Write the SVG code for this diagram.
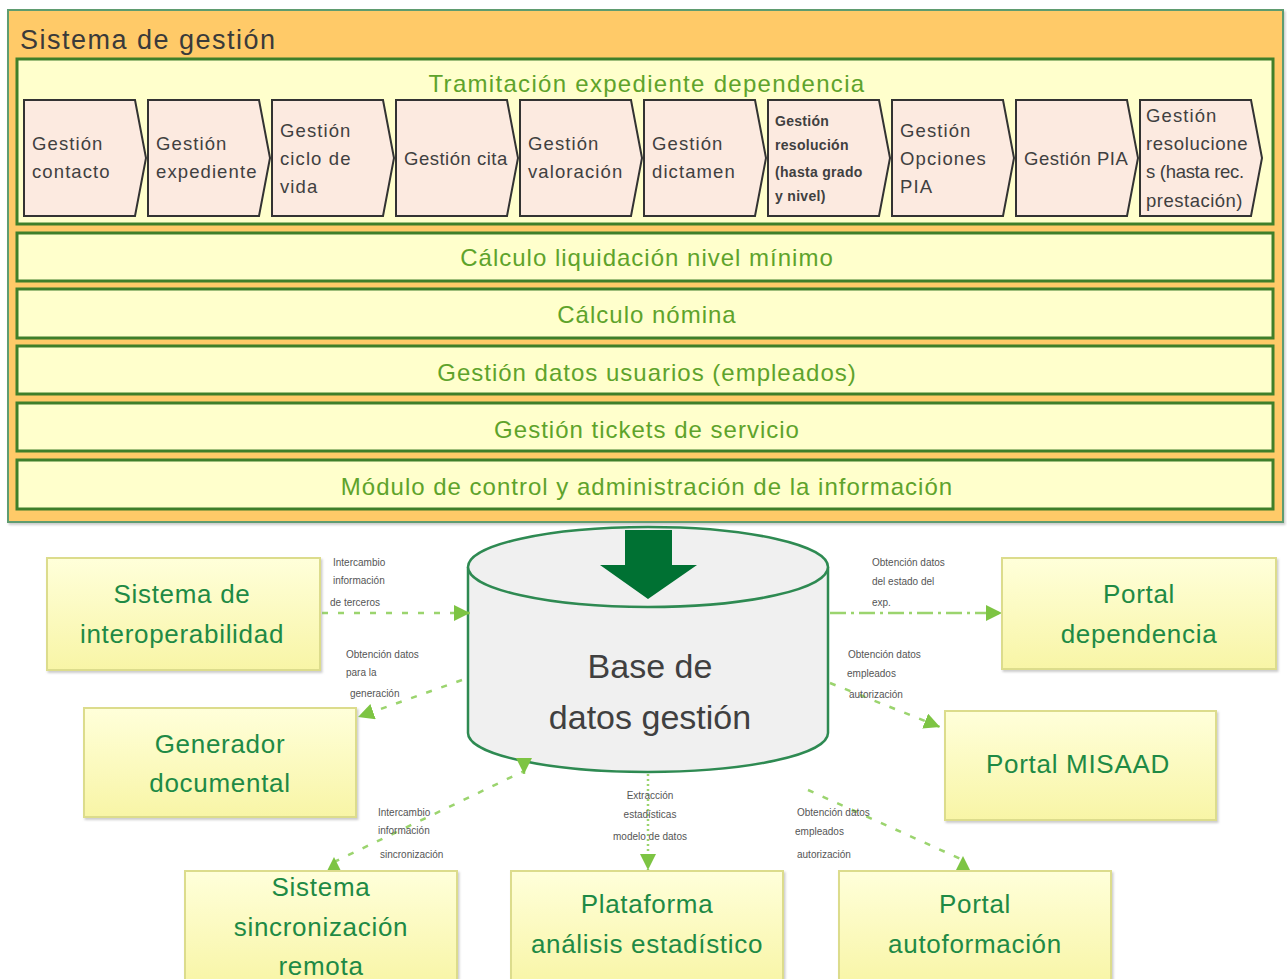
<svg xmlns="http://www.w3.org/2000/svg" width="1287" height="979" viewBox="0 0 1287 979">
<defs>
<linearGradient id="boxGrad" x1="0" y1="0" x2="0" y2="1">
<stop offset="0" stop-color="#FFFFDA"/>
<stop offset="1" stop-color="#F8F5A6"/>
</linearGradient>
<marker id="arr" viewBox="0 0 10 10" refX="10" refY="5" markerUnits="userSpaceOnUse" markerWidth="16" markerHeight="16" orient="auto-start-reverse">
<path d="M0,0 L10,5 L0,10 Z" fill="#7DC443"/>
</marker>
<filter id="sh" x="-5%" y="-5%" width="110%" height="115%">
<feDropShadow dx="1.5" dy="2" stdDeviation="1.2" flood-color="#999" flood-opacity="0.5"/>
</filter>
</defs>
<style>
.outer{fill:#FFCA68;stroke:#5E9C70;stroke-width:2}
.panel{fill:#FFFFCC;stroke:#3F7F2A;stroke-width:3}
.chev{fill:#FCEAE0;stroke:#333333;stroke-width:2}
.ct{font-family:"Liberation Sans",Arial,sans-serif;font-size:18.5px;fill:#404040;letter-spacing:1.1px}
.cts{font-family:"Liberation Sans",Arial,sans-serif;font-size:14px;font-weight:bold;fill:#404040;letter-spacing:0.3px}
.bt{font-family:"Liberation Sans",Arial,sans-serif;font-size:24px;fill:#5EA32B;text-anchor:middle;letter-spacing:1px}
.box{fill:url(#boxGrad);stroke:#DCDC8C;stroke-width:2}
.nt{font-family:"Liberation Sans",Arial,sans-serif;font-size:26px;fill:#1E8A45;text-anchor:middle;letter-spacing:0.7px}
.lbl{font-family:"Liberation Sans",Arial,sans-serif;font-size:10px;fill:#555555}
.con{fill:none;stroke:#9BD46E;stroke-width:2.5;stroke-dasharray:6,10}
</style>

<g id="sistema-gestion">
<rect class="outer" x="8" y="10" width="1275" height="512" filter="url(#sh)"/>
<text x="20" y="49" font-family="Liberation Sans, Arial, sans-serif" font-size="27" letter-spacing="1.5" fill="#3A3A3A">Sistema de gestión</text>
</g>

<g id="tramitacion">
<rect class="panel" x="17" y="59" width="1256" height="165"/>
<text class="bt" x="647" y="92" style="letter-spacing:1.3px">Tramitación expediente dependencia</text>
</g>

<g id="chev-contacto">
<path class="chev" d="M24,100 H135 L146,158 L135,216 H24 Z"/>
<text class="ct" x="32" y="150">Gestión</text>
<text class="ct" x="32" y="178">contacto</text>
</g>
<g id="chev-expediente">
<path class="chev" d="M148,100 H259 L270,158 L259,216 H148 Z"/>
<text class="ct" x="156" y="150">Gestión</text>
<text class="ct" x="156" y="178">expediente</text>
</g>
<g id="chev-ciclo">
<path class="chev" d="M272,100 H383 L394,158 L383,216 H272 Z"/>
<text class="ct" x="280" y="137">Gestión</text>
<text class="ct" x="280" y="165">ciclo de</text>
<text class="ct" x="280" y="193">vida</text>
</g>
<g id="chev-cita">
<path class="chev" d="M396,100 H507 L518,158 L507,216 H396 Z"/>
<text class="ct" x="404" y="165" style="letter-spacing:0.5px">Gestión cita</text>
</g>
<g id="chev-valoracion">
<path class="chev" d="M520,100 H631 L642,158 L631,216 H520 Z"/>
<text class="ct" x="528" y="150">Gestión</text>
<text class="ct" x="528" y="178">valoración</text>
</g>
<g id="chev-dictamen">
<path class="chev" d="M644,100 H755 L766,158 L755,216 H644 Z"/>
<text class="ct" x="652" y="150">Gestión</text>
<text class="ct" x="652" y="178">dictamen</text>
</g>
<g id="chev-resolucion">
<path class="chev" d="M768,100 H879 L890,158 L879,216 H768 Z"/>
<text class="cts" x="775" y="126">Gestión</text>
<text class="cts" x="775" y="150">resolución</text>
<text class="cts" x="775" y="177">(hasta grado</text>
<text class="cts" x="775" y="201">y nivel)</text>
</g>
<g id="chev-opciones">
<path class="chev" d="M892,100 H1003 L1014,158 L1003,216 H892 Z"/>
<text class="ct" x="900" y="137">Gestión</text>
<text class="ct" x="900" y="165">Opciones</text>
<text class="ct" x="900" y="193">PIA</text>
</g>
<g id="chev-pia">
<path class="chev" d="M1016,100 H1127 L1138,158 L1127,216 H1016 Z"/>
<text class="ct" x="1024" y="165" style="letter-spacing:0.5px">Gestión PIA</text>
</g>
<g id="chev-resoluciones">
<path class="chev" d="M1140,100 H1251 L1262,158 L1251,216 H1140 Z"/>
<text class="ct" x="1146" y="122">Gestión</text>
<text class="ct" x="1146" y="150" style="letter-spacing:0.7px">resolucione</text>
<text class="ct" x="1146" y="178" style="letter-spacing:-0.3px">s (hasta rec.</text>
<text class="ct" x="1146" y="207" style="letter-spacing:0.5px">prestación)</text>
</g>

<g id="bar-liquidacion">
<rect class="panel" x="17" y="233" width="1256" height="48"/>
<text class="bt" x="647" y="266">Cálculo liquidación  nivel mínimo</text>
</g>
<g id="bar-nomina">
<rect class="panel" x="17" y="289" width="1256" height="49"/>
<text class="bt" x="647" y="323">Cálculo nómina</text>
</g>
<g id="bar-usuarios">
<rect class="panel" x="17" y="346" width="1256" height="48"/>
<text class="bt" x="647" y="381">Gestión datos usuarios (empleados)</text>
</g>
<g id="bar-tickets">
<rect class="panel" x="17" y="403" width="1256" height="48"/>
<text class="bt" x="647" y="438">Gestión tickets de servicio</text>
</g>
<g id="bar-control">
<rect class="panel" x="17" y="460" width="1256" height="49"/>
<text class="bt" x="647" y="495">Módulo de control y administración  de la información</text>
</g>

<g id="base-datos">
<path d="M468,567 V733 A180,39 0 0 0 828,733 V567" fill="#F0F0F0" stroke="#2E8A52" stroke-width="2.5"/>
<ellipse cx="648" cy="567" rx="180" ry="40" fill="#F0F0F0" stroke="#2E8A52" stroke-width="2.5"/>
<path d="M625,530 H672 V565 H697 L648,599 L600,565 H625 Z" fill="#007133"/>
<text x="650" y="678" text-anchor="middle" font-family="Liberation Sans, Arial, sans-serif" font-size="34" fill="#404040">Base de</text>
<text x="650" y="729" text-anchor="middle" font-family="Liberation Sans, Arial, sans-serif" font-size="34" fill="#404040">datos gestión</text>
</g>

<g id="connectors">
<path class="con" d="M322,613 H470" marker-end="url(#arr)"/>
<path class="con" d="M462,680 L358,717" marker-end="url(#arr)"/>
<path class="con" d="M524,774 L524,771 L334,862 L334,857" marker-start="url(#arr)" marker-end="url(#arr)"/>
<path d="M648,774 V870" fill="none" stroke="#9BD46E" stroke-width="2.5" stroke-dasharray="2,3" marker-end="url(#arr)"/>
<path class="con" d="M808,790 L963,860 L963,856" marker-end="url(#arr)"/>
<path class="con" d="M830,683 L940,727" marker-end="url(#arr)"/>
<path d="M830,613 H1002" fill="none" stroke="#9BD46E" stroke-width="2.5" stroke-dasharray="16,5,3,5" marker-end="url(#arr)"/>
<text class="lbl" x="333" y="566">Intercambio</text>
<text class="lbl" x="333" y="584">información</text>
<text class="lbl" x="330" y="606">de terceros</text>
<text class="lbl" x="346" y="658">Obtención datos</text>
<text class="lbl" x="346" y="676">para la</text>
<text class="lbl" x="350" y="697">generación</text>
<text class="lbl" x="378" y="816">Intercambio</text>
<text class="lbl" x="378" y="834">información</text>
<text class="lbl" x="380" y="858">sincronización</text>
<text class="lbl" x="650" y="799" text-anchor="middle">Extracción</text>
<text class="lbl" x="650" y="818" text-anchor="middle">estadísticas</text>
<text class="lbl" x="650" y="840" text-anchor="middle">modelo de datos</text>
<text class="lbl" x="797" y="816">Obtención datos</text>
<text class="lbl" x="795" y="835">empleados</text>
<text class="lbl" x="797" y="858">autorización</text>
<text class="lbl" x="872" y="566">Obtención datos</text>
<text class="lbl" x="872" y="585">del estado del</text>
<text class="lbl" x="872" y="606">exp.</text>
<text class="lbl" x="848" y="658">Obtención datos</text>
<text class="lbl" x="847" y="677">empleados</text>
<text class="lbl" x="849" y="698">autorización</text>
</g>

<g id="interoperabilidad">
<rect class="box" x="47" y="558" width="273" height="112" filter="url(#sh)"/>
<text class="nt" x="182" y="603">Sistema de</text>
<text class="nt" x="182" y="643">interoperabilidad</text>
</g>
<g id="generador">
<rect class="box" x="84" y="708" width="272" height="109" filter="url(#sh)"/>
<text class="nt" x="220" y="753">Generador</text>
<text class="nt" x="220" y="792">documental</text>
</g>
<g id="sincronizacion">
<rect class="box" x="185" y="871" width="272" height="115" filter="url(#sh)"/>
<text class="nt" x="321" y="896">Sistema</text>
<text class="nt" x="321" y="936">sincronización</text>
<text class="nt" x="321" y="975">remota</text>
</g>
<g id="plataforma">
<rect class="box" x="511" y="871" width="272" height="115" filter="url(#sh)"/>
<text class="nt" x="647" y="913">Plataforma</text>
<text class="nt" x="647" y="953">análisis estadístico</text>
</g>
<g id="autoformacion">
<rect class="box" x="839" y="871" width="272" height="115" filter="url(#sh)"/>
<text class="nt" x="975" y="913">Portal</text>
<text class="nt" x="975" y="953">autoformación</text>
</g>
<g id="misaad">
<rect class="box" x="945" y="711" width="271" height="109" filter="url(#sh)"/>
<text class="nt" x="1078" y="773">Portal MISAAD</text>
</g>
<g id="portal-dependencia">
<rect class="box" x="1002" y="558" width="274" height="111" filter="url(#sh)"/>
<text class="nt" x="1139" y="603">Portal</text>
<text class="nt" x="1139" y="643">dependencia</text>
</g>
</svg>
